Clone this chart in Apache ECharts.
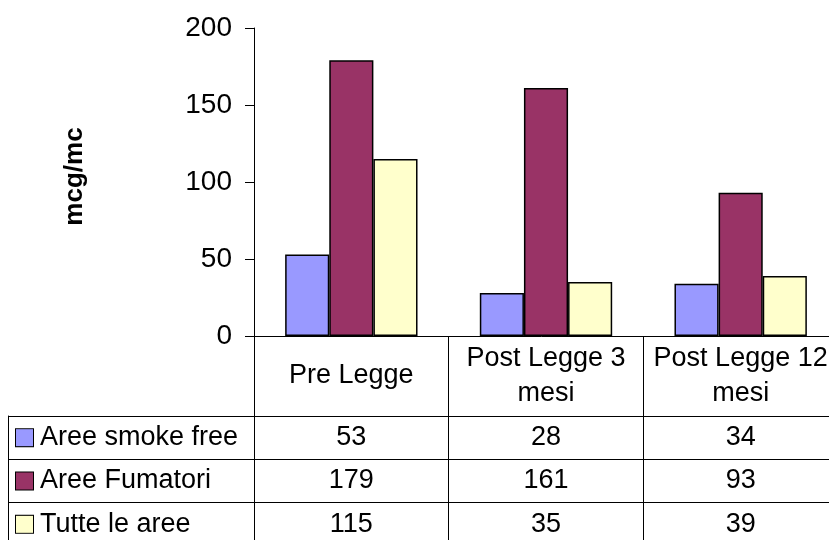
<!DOCTYPE html>
<html>
<head>
<meta charset="utf-8">
<script src="https://cdn.jsdelivr.net/npm/echarts@6/dist/echarts.min.js"></script>
<style>
html,body{margin:0;padding:0;background:#fff;}
#chart{width:829px;height:540px;}
</style>
</head>
<body>
<div id="chart"></div>
<script>
var categories = ["Pre Legge", "Post Legge 3\nmesi", "Post Legge 12\nmesi"];
var seriesNames = ["Aree smoke free", "Aree Fumatori", "Tutte le aree"];
var smokeFree = [53, 28, 34];
var fumatori = [179, 161, 93];
var tutte = [115, 35, 39];
var yTicks = [0, 50, 100, 150, 200];
var colors = ["#9999FF", "#993366", "#FFFFCC"];

var seriesValues = [smokeFree, fumatori, tutte];
var FONT = "Liberation Sans, Arial, sans-serif";

var chart = echarts.init(document.getElementById('chart'), null, {renderer: 'canvas'});

var rich = { t: { fontSize: 27, fontFamily: FONT, color: '#000', padding: [0, 0, 0, 7] } };
colors.forEach(function (c, i) {
  rich['s' + i] = { width: 17, height: 17, backgroundColor: c, borderColor: '#000', borderWidth: 1 };
});

var tableData = [];
seriesValues.forEach(function (vals, si) {
  vals.forEach(function (v, ci) {
    tableData.push([ci, si, v]);
  });
});

var bars = seriesValues.map(function (vals, i) {
  return {
    name: seriesNames[i],
    type: 'bar',
    xAxisIndex: 0,
    yAxisIndex: 0,
    data: vals,
    barGap: '0%',
    barCategoryGap: '32%',
    itemStyle: { color: colors[i], borderColor: '#000', borderWidth: 1.5 },
    silent: true
  };
});

var option = {
  backgroundColor: '#fff',
  animation: false,
  textStyle: { fontFamily: FONT },
  grid: [
    { left: 254, width: 584, top: 28, height: 308, outerBoundsMode: 'none', containLabel: false },
    { left: 254, width: 584, top: 416, height: 130, outerBoundsMode: 'none', containLabel: false }
  ],
  xAxis: [
    {
      gridIndex: 0,
      type: 'category',
      data: categories,
      axisLine: { show: true, lineStyle: { color: '#000', width: 1 } },
      axisTick: { show: true, length: 80, inside: false, lineStyle: { color: '#000', width: 1 } },
      axisLabel: { fontSize: 27, fontFamily: FONT, color: '#000', lineHeight: 35, margin: 40, verticalAlign: 'middle', interval: 0 },
      splitLine: { show: false }
    },
    {
      gridIndex: 1,
      type: 'category',
      position: 'top',
      data: categories,
      axisLine: { show: true, lineStyle: { color: '#000', width: 1 } },
      axisTick: { show: false },
      axisLabel: { show: false },
      splitLine: { show: true, lineStyle: { color: '#000', width: 1 } }
    }
  ],
  yAxis: [
    {
      gridIndex: 0,
      type: 'value',
      min: 0,
      max: 200,
      interval: 50,
      name: 'mcg/mc',
      nameLocation: 'middle',
      nameRotate: 90,
      nameGap: 166,
      nameTextStyle: { fontSize: 26, fontWeight: 'bold', fontFamily: FONT, color: '#000', padding: [0, 0, 0, 11] },
      axisLine: { show: true, lineStyle: { color: '#000', width: 1 } },
      axisTick: { show: true, length: 9, lineStyle: { color: '#000', width: 1 } },
      axisLabel: { fontSize: 28, fontFamily: FONT, color: '#000', margin: 22,
        formatter: function (v) { return yTicks.indexOf(v) >= 0 ? String(v) : ''; } },
      splitLine: { show: false }
    },
    {
      gridIndex: 1,
      type: 'category',
      inverse: true,
      data: seriesNames,
      axisLine: { show: true, lineStyle: { color: '#000', width: 1 } },
      axisTick: { show: true, length: 246, lineStyle: { color: '#000', width: 1 } },
      axisLabel: {
        show: true, align: 'left', margin: 238, interval: 0,
        formatter: function (v, i) { return '{s' + i + '|}{t|' + v + '}'; },
        rich: rich
      },
      splitLine: { show: true, lineStyle: { color: '#000', width: 1 } }
    },
    {
      gridIndex: 1,
      type: 'category',
      inverse: true,
      data: seriesNames,
      position: 'left',
      offset: 246,
      axisLine: { show: true, lineStyle: { color: '#000', width: 1 } },
      axisTick: { show: false },
      axisLabel: { show: false },
      splitLine: { show: false }
    }
  ],
  series: bars.concat([{
    type: 'scatter',
    xAxisIndex: 1,
    yAxisIndex: 1,
    data: tableData,
    symbolSize: 2,
    itemStyle: { color: 'rgba(0,0,0,0)' },
    silent: true,
    label: {
      show: true,
      position: 'inside',
      fontSize: 27,
      fontFamily: FONT,
      color: '#000',
      opacity: 1,
      textBorderWidth: 0,
      formatter: function (p) { return String(p.value[2]); }
    }
  }])
};
chart.setOption(option);
</script>
</body>
</html>
